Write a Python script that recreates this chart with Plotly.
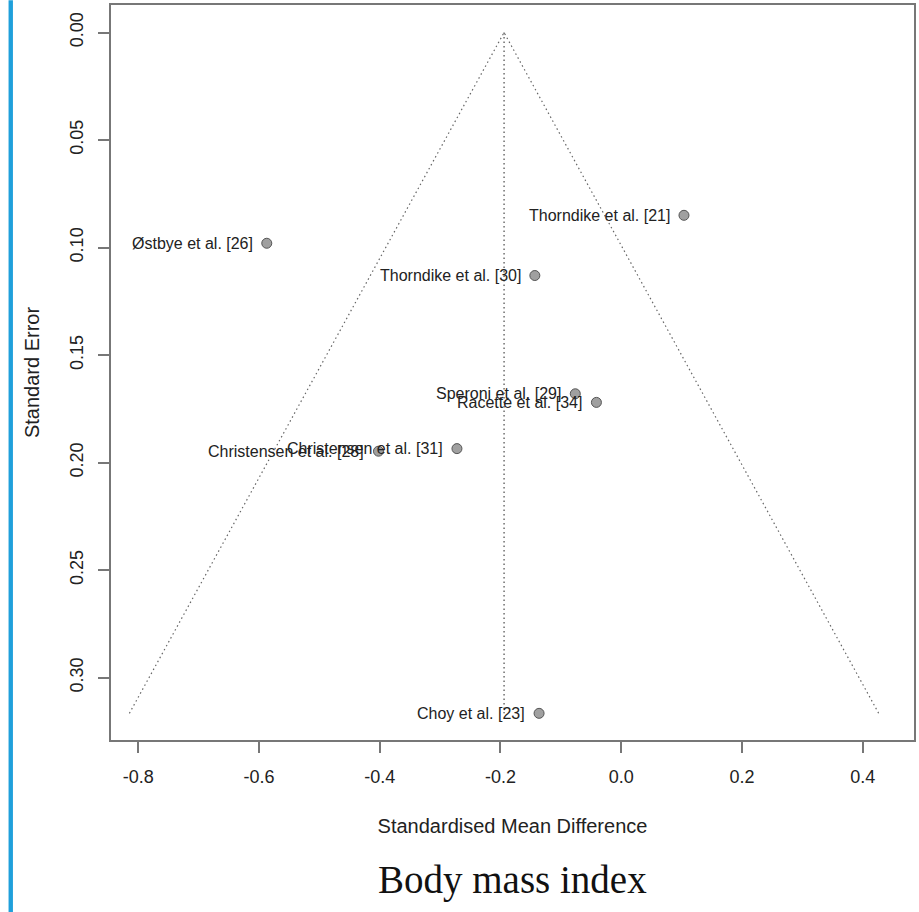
import plotly.graph_objects as go

# ---- data ----
studies = ["Thorndike et al. [21]", "Østbye et al. [26]", "Thorndike et al. [30]",
           "Speroni et al. [29]", "Racette et al. [34]", "Christensen et al. [31]",
           "Christensen et al. [28]", "Choy et al. [23]"]
smd = [0.104, -0.587, -0.143, -0.076, -0.041, -0.272, -0.402, -0.136]
se = [0.085, 0.098, 0.113, 0.168, 0.172, 0.1935, 0.1947, 0.3166]
pooled = -0.194
z_crit = 1.96

x_ticks = [-0.8, -0.6, -0.4, -0.2, 0.0, 0.2, 0.4]
x_tick_labels = ["-0.8", "-0.6", "-0.4", "-0.2", "0.0", "0.2", "0.4"]
y_ticks = [0.00, 0.05, 0.10, 0.15, 0.20, 0.25, 0.30]
y_tick_labels = ["0.00", "0.05", "0.10", "0.15", "0.20", "0.25", "0.30"]

se_max = max(se)
font_sans = "Liberation Sans, Arial, sans-serif"
txt_col = "#222222"

fig = go.Figure()

# funnel
fig.add_trace(go.Scatter(
    x=[pooled - z_crit * se_max, pooled, pooled + z_crit * se_max],
    y=[se_max, 0, se_max], mode="lines",
    line=dict(color="#666666", width=1.2, dash="1.5px,3px"), hoverinfo="skip", showlegend=False))
# pooled estimate line
fig.add_trace(go.Scatter(
    x=[pooled, pooled], y=[0, se_max], mode="lines",
    line=dict(color="#222222", width=1, dash="1.5px,3px"), hoverinfo="skip", showlegend=False))
# studies
fig.add_trace(go.Scatter(
    x=smd, y=se, mode="markers",
    marker=dict(size=10, color="#a0a0a0", line=dict(color="#555555", width=1)),
    text=studies, hoverinfo="text", showlegend=False))

annotations = []
for name, x, y in zip(studies, smd, se):
    annotations.append(dict(x=x, y=y, xref="x", yref="y", text=name, showarrow=False,
                            xanchor="right", yanchor="middle", xshift=-12,
                            font=dict(family=font_sans, size=16, color=txt_col)))

annotations.append(dict(x=0.5, y=(740 - 880) / 735.3, xref="paper", yref="paper",
                        text="Body mass index", showarrow=False, xanchor="center",
                        yanchor="middle",
                        font=dict(family="Liberation Serif, serif", size=39, color="#111111")))

fig.update_layout(
    width=919, height=912,
    margin=dict(l=111, r=3, t=5, b=172),
    paper_bgcolor="white", plot_bgcolor="white",
    showlegend=False,
    annotations=annotations,
    shapes=[dict(type="rect", xref="paper", yref="paper",
                 x0=(8.3 - 111) / 805, x1=(12.7 - 111) / 805,
                 y0=(740 - 912) / 735.3, y1=(740 - 0) / 735.3,
                 fillcolor="#1fa0db", line=dict(width=0), layer="above")],
    xaxis=dict(range=[-0.845, 0.485], tickvals=x_ticks, ticktext=x_tick_labels,
               showgrid=False, zeroline=False, showline=True, mirror=True,
               linecolor="#777777", linewidth=2, ticks="outside", ticklen=11,
               tickcolor="#777777", tickwidth=1.5,
               tickfont=dict(family=font_sans, size=18, color=txt_col),
               ticklabelstandoff=8,
               title=dict(text="Standardised Mean Difference", standoff=33,
                          font=dict(family=font_sans, size=20, color=txt_col))),
    yaxis=dict(range=[0.329, -0.0128], tickvals=y_ticks, ticktext=y_tick_labels,
               showgrid=False, zeroline=False, showline=True, mirror=True,
               linecolor="#777777", linewidth=2, ticks="outside", ticklen=11,
               tickcolor="#777777", tickwidth=1.5, tickangle=-90,
               tickfont=dict(family=font_sans, size=18, color=txt_col),
               ticklabelstandoff=8,
               title=dict(text="Standard Error", standoff=22,
                          font=dict(family=font_sans, size=20, color=txt_col))),
)

fig.write_html("out.html")
